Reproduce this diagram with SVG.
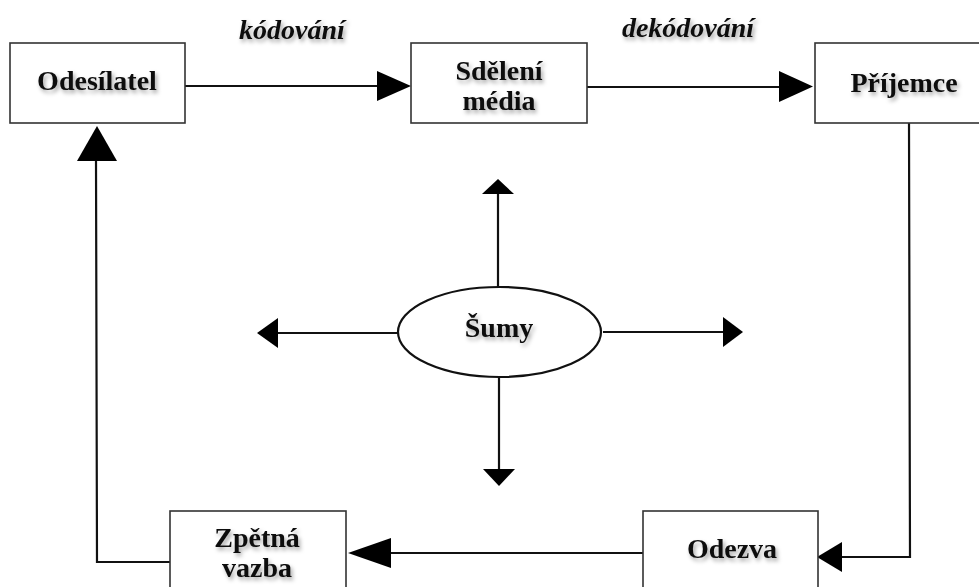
<svg xmlns="http://www.w3.org/2000/svg" width="979" height="587" viewBox="0 0 979 587">
  <defs>
    <filter id="tshadow" x="-20%" y="-30%" width="140%" height="180%">
      <feDropShadow dx="2" dy="3" stdDeviation="2.2" flood-color="#000" flood-opacity="0.35"/>
    </filter>
  </defs>
  <style>
    .box { fill: #fff; stroke: #333; stroke-width: 1.6; }
    .ell { fill: #fff; stroke: #111; stroke-width: 2.2; }
    .lbl { font-family: "Liberation Serif", "Times New Roman", serif; font-weight: bold; font-size: 28px; fill: #111; text-anchor: middle; filter: url(#tshadow); }
    .it { font-style: italic; }
    .ln { fill: none; stroke: #111; stroke-width: 2.2; }
    .head { fill: #000; stroke: none; }
  </style>
  <rect width="979" height="587" fill="#fff"/>

  <g id="connectors">
    <!-- Odesílatel -> Sdělení -->
    <line class="ln" x1="185" y1="86" x2="378" y2="86"/>
    <polygon class="head" points="377,71 411,86 377,101"/>
    <!-- Sdělení -> Příjemce -->
    <line class="ln" x1="587" y1="87" x2="780" y2="87"/>
    <polygon class="head" points="779,71 813,86.5 779,102"/>
    <!-- Příjemce -> Odezva -->
    <polyline class="ln" points="909,123 910,557 842,557"/>
    <polygon class="head" points="842,542 817,557 842,572"/>
    <!-- Odezva -> Zpětná vazba -->
    <line class="ln" x1="643" y1="553" x2="390" y2="553"/>
    <polygon class="head" points="391,538 348,553 391,568"/>
    <!-- Zpětná vazba -> Odesílatel -->
    <polyline class="ln" points="170,562 97,562 96,160"/>
    <polygon class="head" points="77,161 97,126 117,161"/>
    <!-- Šumy arrows -->
    <line class="ln" x1="498" y1="287" x2="498" y2="194"/>
    <polygon class="head" points="482,194 498,179 514,194"/>
    <line class="ln" x1="499" y1="377" x2="499" y2="470"/>
    <polygon class="head" points="483,469 499,486 515,469"/>
    <line class="ln" x1="398" y1="333" x2="278" y2="333"/>
    <polygon class="head" points="278,318 257,333 278,348"/>
    <line class="ln" x1="603" y1="332" x2="724" y2="332"/>
    <polygon class="head" points="723,317 743,332 723,347"/>
  </g>

  <g id="label-kodovani">
    <text class="lbl it" x="292" y="39">kódování</text>
  </g>
  <g id="label-dekodovani">
    <text class="lbl it" x="688" y="37">dekódování</text>
  </g>

  <g id="odesilatel">
    <rect class="box" x="10" y="43" width="175" height="80"/>
    <text class="lbl" x="97" y="90">Odesílatel</text>
  </g>
  <g id="sdeleni">
    <rect class="box" x="411" y="43" width="176" height="80"/>
    <text class="lbl" x="499" y="80">Sdělení</text>
    <text class="lbl" x="499" y="110">média</text>
  </g>
  <g id="prijemce">
    <rect class="box" x="815" y="43" width="178" height="80"/>
    <text class="lbl" x="904" y="92">Příjemce</text>
  </g>
  <g id="sumy">
    <ellipse class="ell" cx="499.5" cy="332" rx="101.5" ry="45"/>
    <text class="lbl" x="499" y="337">Šumy</text>
  </g>
  <g id="odezva">
    <rect class="box" x="643" y="511" width="175" height="90"/>
    <text class="lbl" x="732" y="558">Odezva</text>
  </g>
  <g id="zpetna-vazba">
    <rect class="box" x="170" y="511" width="176" height="90"/>
    <text class="lbl" x="257" y="547">Zpětná</text>
    <text class="lbl" x="257" y="577">vazba</text>
  </g>
</svg>
